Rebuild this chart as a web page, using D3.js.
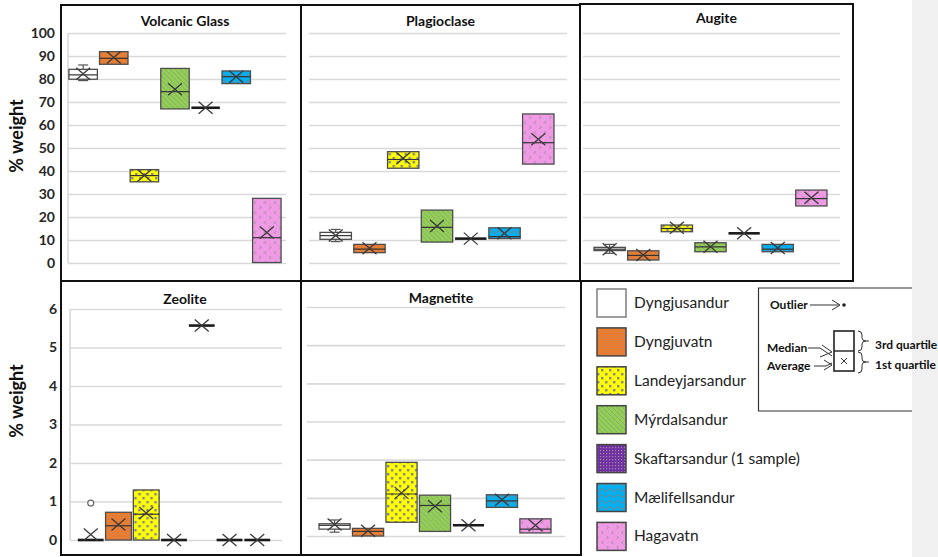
<!DOCTYPE html>
<html>
<head>
<meta charset="utf-8">
<script src="https://cdn.jsdelivr.net/npm/d3@7"></script>
<style>
  body { margin: 0; background: #fff; }
  text { font-family: Lato, "Open Sans", sans-serif; }
</style>
</head>
<body>
<svg id="chart" width="938" height="557"></svg>
<script>
// sampling sites, in plotting order
var sites = ["Dyngjusandur", "Dyngjuvatn", "Landeyjarsandur", "Mýrdalsandur",
             "Skaftarsandur (1 sample)", "Mælifellsandur", "Hagavatn"];

// every row: [min, q1, median, q3, max, mean]  (% weight)
var volcanicGlass = [
  [79.3, 79.9, 81.8, 84.2, 86.1, 82.3],
  [86.4, 86.4, 89.0, 91.9, 91.9, 89.3],
  [35.3, 35.3, 38.0, 40.6, 40.6, 38.0],
  [67.0, 67.0, 74.5, 84.6, 84.6, 75.5],
  [67.5, 67.5, 67.5, 67.5, 67.5, 67.5],
  [78.0, 78.0, 81.0, 83.5, 83.5, 81.0],
  [0.2, 0.2, 11.0, 28.1, 28.1, 13.3]
];
var plagioclase = [
  [9.3, 10.3, 11.9, 13.3, 14.6, 12.0],
  [4.5, 4.5, 6.0, 8.1, 8.1, 6.4],
  [41.2, 41.2, 45.0, 48.4, 48.4, 45.5],
  [9.1, 9.1, 15.5, 23.0, 23.0, 16.1],
  [10.6, 10.6, 10.6, 10.6, 10.6, 10.6],
  [10.6, 10.6, 11.5, 15.3, 15.3, 12.9],
  [43.0, 43.0, 52.3, 64.8, 64.8, 53.8]
];
var augite = [
  [4.2, 5.4, 6.0, 6.8, 8.1, 6.0],
  [1.3, 1.3, 3.3, 5.3, 5.3, 3.5],
  [13.6, 13.6, 15.0, 16.5, 16.5, 15.3],
  [4.9, 4.9, 7.0, 8.8, 8.8, 7.1],
  [12.9, 12.9, 12.9, 12.9, 12.9, 12.9],
  [4.9, 4.9, 6.0, 8.1, 8.1, 6.5],
  [24.8, 24.8, 28.0, 31.7, 31.7, 28.4]
];
var zeolite = [
  [0, 0, 0, 0, 0, 0.14],
  [0, 0, 0.37, 0.72, 0.72, 0.40],
  [0, 0, 0.67, 1.30, 1.30, 0.70],
  [0, 0, 0, 0, 0, 0],
  [5.57, 5.57, 5.57, 5.57, 5.57, 5.57],
  [0, 0, 0, 0, 0, 0],
  [0, 0, 0, 0, 0, 0]
];
var magnetite = [
  [0.10, 0.18, 0.28, 0.32, 0.42, 0.30],
  [0.0, 0.0, 0.12, 0.20, 0.20, 0.14],
  [0.36, 0.36, 1.10, 1.93, 1.93, 1.13],
  [0.12, 0.12, 0.80, 1.07, 1.07, 0.78],
  [0.28, 0.28, 0.28, 0.28, 0.28, 0.28],
  [0.75, 0.75, 0.92, 1.08, 1.08, 0.95],
  [0.08, 0.08, 0.18, 0.45, 0.45, 0.28]
];
// outliers: [site index, value]
var zeoliteOutliers = [[0, 0.96]];

var bigTicks = d3.range(0, 101, 10);
var smallTicks = d3.range(0, 7, 1);

var svg = d3.select("#chart");
var defs = svg.append("defs");

// ---- fill patterns (one per site) ----
function pat(id, w, h, bg) {
  var p = defs.append("pattern").attr("id", id)
    .attr("patternUnits", "userSpaceOnUse").attr("width", w).attr("height", h);
  p.append("rect").attr("width", w).attr("height", h).attr("fill", bg);
  return p;
}
var pOrange = pat("p1", 4, 4, "#F07A28");
pOrange.append("rect").attr("x", 0).attr("y", 0).attr("width", 1.1).attr("height", 1.1).attr("fill", "#a89080");
pOrange.append("rect").attr("x", 2).attr("y", 2).attr("width", 1.1).attr("height", 1.1).attr("fill", "#a89080");

var pYellow = pat("p2", 8, 8, "#FFFF00");
pYellow.append("rect").attr("x", 1).attr("y", 1).attr("width", 2.4).attr("height", 2.4).attr("fill", "#84849a");
pYellow.append("rect").attr("x", 5).attr("y", 5).attr("width", 2.4).attr("height", 2.4).attr("fill", "#84849a");

var pGreen = pat("p3", 5, 5, "#92D050");
pGreen.append("path").attr("d", "M-1,-1L6,6M-1,4L1,6M4,-1L6,1")
  .attr("stroke", "#8fa585").attr("stroke-width", 1);

var pPurple = pat("p4", 3, 3, "#7030A0");
pPurple.append("rect").attr("width", 1.2).attr("height", 1.2).attr("fill", "#a08ab0");

var pBlue = pat("p5", 8, 6, "#00B0F0");
pBlue.append("path").attr("d", "M0,4Q2,1 4,4T8,4").attr("fill", "none")
  .attr("stroke", "#8a7a80").attr("stroke-width", 0.9);

var pPink = pat("p6", 10, 10, "#F09AE6");
pPink.append("path").attr("d", "M3.5,1L1.5,2.5L3.5,4M6.5,6L8.5,7.5L6.5,9")
  .attr("fill", "none").attr("stroke", "#8a8a8a").attr("stroke-width", 0.8);

var fills = ["#ffffff", "url(#p1)", "url(#p2)", "url(#p3)", "url(#p4)", "url(#p5)", "url(#p6)"];

// ---- panels ----
var panels = [
  { title: "Volcanic Glass", data: volcanicGlass, frame: [61, 5, 301, 281], band: [68, 282], grid: [68, 286],
    yr: [263, 33], dom: [0, 100], ticks: bigTicks, labels: true, titleY: 26, labelY: 136 },
  { title: "Plagioclase", data: plagioclase, frame: [301, 5, 580, 281], band: [319, 555], grid: [309, 567],
    yr: [263, 33], dom: [0, 100], ticks: bigTicks, labels: false, titleY: 26 },
  { title: "Augite", data: augite, frame: [580, 4, 853, 281], band: [593, 828], grid: [583, 840],
    yr: [263, 33], dom: [0, 100], ticks: bigTicks, labels: false, titleY: 23 },
  { title: "Zeolite", data: zeolite, frame: [61, 281, 301, 555], band: [77, 271], grid: [70, 282],
    yr: [540, 309], dom: [0, 6], ticks: smallTicks, labels: true, titleY: 304, labelY: 401, outliers: zeoliteOutliers },
  { title: "Magnetite", data: magnetite, frame: [301, 281, 581, 555], band: [318, 552], grid: [307, 565],
    yr: [536, 307], dom: [0, 6], ticks: smallTicks, labels: false, titleY: 303 }
];

panels.forEach(function(p) {
  var g = svg.append("g");
  var x = d3.scaleBand().domain(d3.range(sites.length)).range(p.band).paddingInner(0.07).paddingOuter(0.03);
  var y = d3.scaleLinear().domain(p.dom).range(p.yr);

  // gridlines
  g.append("g")
    .attr("transform", "translate(" + p.grid[0] + ",0)")
    .call(d3.axisLeft(y).tickValues(p.ticks).tickSize(-(p.grid[1] - p.grid[0])).tickFormat(""))
    .call(function(a) {
      a.select(".domain").remove();
      a.selectAll("line").attr("stroke", "#d9d9d9").attr("stroke-width", 1.6);
    });

  if (p.labels) {
    g.append("line").attr("x1", p.grid[0]).attr("x2", p.grid[0])
      .attr("y1", y(p.dom[1])).attr("y2", y(0)).attr("stroke", "#d9d9d9").attr("stroke-width", 1.6);
    g.append("g")
      .attr("transform", "translate(" + (p.grid[0] - 13) + ",0)")
      .call(d3.axisLeft(y).tickValues(p.ticks).tickSize(0).tickPadding(0).tickFormat(d3.format("d")))
      .call(function(a) {
        a.select(".domain").remove();
        a.selectAll("text").attr("font-size", 14).attr("font-weight", "bold").attr("fill", "#262626")
          .style("font-family", "Lato, 'Open Sans', sans-serif");
      });
    g.append("text")
      .attr("transform", "translate(23," + p.labelY + ") rotate(-90)")
      .attr("text-anchor", "middle").attr("font-size", 18).attr("font-weight", "bold").attr("fill", "#111")
      .text("% weight");
  }

  g.append("text").attr("x", (p.frame[0] + p.frame[2]) / 2 + (p.labels ? 4 : 0)).attr("y", p.titleY)
    .attr("text-anchor", "middle").attr("font-size", 14).attr("font-weight", "bold").attr("fill", "#111")
    .text(p.title);

  var bw = x.bandwidth();
  var boxes = g.selectAll("g.box").data(p.data).enter().append("g").attr("class", "box")
    .attr("transform", function(d, i) { return "translate(" + x(i) + ",0)"; });

  boxes.each(function(d, i) {
    var b = d3.select(this);
    var mn = d[0], q1 = d[1], md = d[2], q3 = d[3], mx = d[4], mean = d[5];
    var cx = bw / 2;
    if (mx > q3) {
      b.append("line").attr("x1", cx).attr("x2", cx).attr("y1", y(q3)).attr("y2", y(mx)).attr("stroke", "#555").attr("stroke-width", 1.2);
      b.append("line").attr("x1", cx - 5).attr("x2", cx + 5).attr("y1", y(mx)).attr("y2", y(mx)).attr("stroke", "#555").attr("stroke-width", 1.2);
    }
    if (mn < q1) {
      b.append("line").attr("x1", cx).attr("x2", cx).attr("y1", y(q1)).attr("y2", y(mn)).attr("stroke", "#555").attr("stroke-width", 1.2);
      b.append("line").attr("x1", cx - 5).attr("x2", cx + 5).attr("y1", y(mn)).attr("y2", y(mn)).attr("stroke", "#555").attr("stroke-width", 1.2);
    }
    if (q3 > q1) {
      b.append("rect").attr("x", 0).attr("y", y(q3)).attr("width", bw).attr("height", y(q1) - y(q3))
        .attr("fill", fills[i]).attr("stroke", "#4d4d4d").attr("stroke-width", 1.3);
      b.append("line").attr("x1", 0).attr("x2", bw).attr("y1", y(md)).attr("y2", y(md))
        .attr("stroke", "#333").attr("stroke-width", 1.2);
    } else {
      b.append("line").attr("x1", 0).attr("x2", bw).attr("y1", y(md)).attr("y2", y(md))
        .attr("stroke", "#1a1a1a").attr("stroke-width", 2.6);
    }
    var my = y(mean);
    b.append("path").attr("d", "M" + (cx - 7) + "," + (my - 6) + "L" + (cx + 7) + "," + (my + 6) +
        "M" + (cx - 7) + "," + (my + 6) + "L" + (cx + 7) + "," + (my - 6))
      .attr("stroke", "#3a3a3a").attr("stroke-width", 1.3).attr("fill", "none");
  });

  (p.outliers || []).forEach(function(o) {
    g.append("circle").attr("cx", x(o[0]) + bw / 2).attr("cy", y(o[1])).attr("r", 3)
      .attr("fill", "#fff").attr("stroke", "#666").attr("stroke-width", 1.2);
  });

  g.append("rect").attr("x", p.frame[0]).attr("y", p.frame[1])
    .attr("width", p.frame[2] - p.frame[0]).attr("height", p.frame[3] - p.frame[1])
    .attr("fill", "none").attr("stroke", "#111").attr("stroke-width", 2);
});

// ---- legend ----
var leg = svg.append("g");
sites.forEach(function(s, i) {
  var ly = 289 + i * 38.9;
  leg.append("rect").attr("x", 597).attr("y", ly).attr("width", 29).attr("height", 28)
    .attr("fill", fills[i]).attr("stroke", i === 0 ? "#7f7f7f" : "#444").attr("stroke-width", 1.5);
  leg.append("text").attr("x", 634).attr("y", ly + 19).attr("font-size", 15.5).attr("fill", "#222").text(s);
});

// ---- grey strip at the right ----
svg.append("rect").attr("x", 912).attr("y", 0).attr("width", 26).attr("height", 557).attr("fill", "#f0f0f0");

// ---- key box ----
var key = svg.append("g");
key.append("path").attr("d", "M912,288H758.5V411H912").attr("fill", "none").attr("stroke", "#333").attr("stroke-width", 1.2);
var kf = { "font-size": 12, "font-weight": "bold", "fill": "#111" };
function ktext(t, xx, yy) {
  var e = key.append("text").attr("x", xx).attr("y", yy).text(t);
  Object.keys(kf).forEach(function(k) { e.attr(k, kf[k]); });
}
ktext("Outlier", 770, 309);
ktext("Median", 767, 352);
ktext("Average", 767, 370);
ktext("3rd quartile", 875, 349);
ktext("1st quartile", 875, 369);
var ks = { stroke: "#333", "stroke-width": 1, fill: "none" };
function kpath(d) {
  var e = key.append("path").attr("d", d);
  Object.keys(ks).forEach(function(k) { e.attr(k, ks[k]); });
}
kpath("M810,305H839M832,300L840,305L832,310");
key.append("circle").attr("cx", 844).attr("cy", 305).attr("r", 1.8).attr("fill", "#222");
key.append("rect").attr("x", 834).attr("y", 331).attr("width", 20).attr("height", 40)
  .attr("fill", "none").attr("stroke", "#222").attr("stroke-width", 1.6);
key.append("line").attr("x1", 834).attr("x2", 854).attr("y1", 351).attr("y2", 351).attr("stroke", "#222").attr("stroke-width", 1.4);
kpath("M841,358L847,364M841,364L847,358");
kpath("M808,348H820L832,356M822,345L832,352L820,357");
kpath("M814,366H826L832,363M824,360L832,365L824,370");
kpath("M858,331Q862,331 862,335V338Q862,341 866,341Q862,341 862,344V347Q862,351 858,351M866,341H869");
kpath("M858,352Q862,352 862,356V359Q862,362 866,362Q862,362 862,365V369Q862,373 858,373M866,362H869");
</script>
</body>
</html>
